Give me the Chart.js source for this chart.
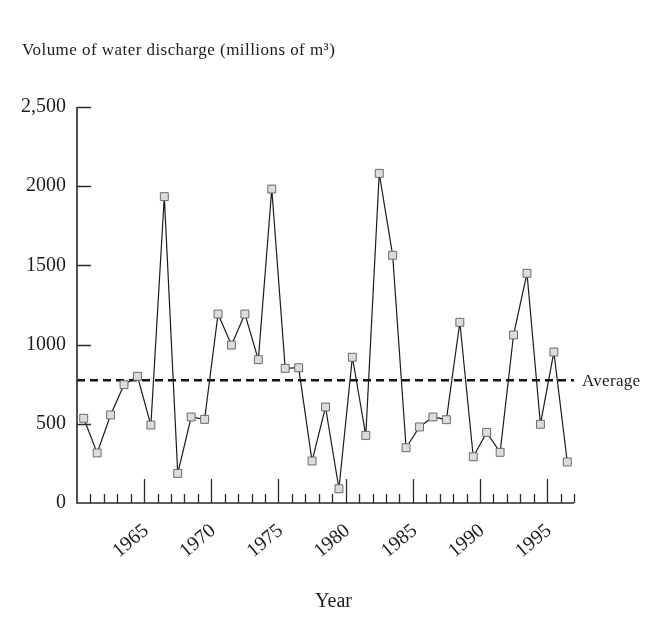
<!DOCTYPE html>
<html>
<head>
<meta charset="utf-8">
<script src="https://cdn.jsdelivr.net/npm/chart.js@4.4.1/dist/chart.umd.min.js"></script>
<style>
  html, body { margin: 0; padding: 0; background: #ffffff; }
  #wrap { width: 655px; height: 642px; position: relative; }
</style>
</head>
<body>
<div id="wrap"><canvas id="chart" width="655" height="642"></canvas></div>
<script>
// Annual water discharge, millions of m³ (one value per year, 1960–1996)
const years = [
  1960, 1961, 1962, 1963, 1964, 1965, 1966, 1967, 1968, 1969,
  1970, 1971, 1972, 1973, 1974, 1975, 1976, 1977, 1978, 1979,
  1980, 1981, 1982, 1983, 1984, 1985, 1986, 1987, 1988, 1989,
  1990, 1991, 1992, 1993, 1994, 1995, 1996
];
const discharge = [
  535, 316, 556, 747, 800, 492, 1934, 187, 543, 528,
  1193, 997, 1193, 905, 1982, 850, 854, 265, 606, 90,
  920, 427, 2081, 1564, 349, 480, 543, 526, 1141, 292,
  446, 320, 1061, 1450, 497, 953, 259
];
const averageDischarge = 775;
const yTickValues = [0, 500, 1000, 1500, 2000, 2500];
const yTickLabels = ['0', '500', '1000', '1500', '2000', '2,500'];
const labelledYears = [1965, 1970, 1975, 1980, 1985, 1990, 1995];
const firstYear = 1960;
const lastYear = 1997;

const SERIF = '"Liberation Serif", "Times New Roman", serif';
const INK = '#1c1c1c';

// Axis lines with inward-pointing tick marks
const axesPlugin = {
  id: 'inwardAxes',
  afterDatasetsDraw(chart) {
    const { ctx, scales: { x, y } } = chart;
    const x0 = x.getPixelForValue(firstYear);
    const x1 = x.getPixelForValue(lastYear);
    const yBase = y.getPixelForValue(0);
    const yTop = y.getPixelForValue(2500);
    ctx.save();
    ctx.strokeStyle = '#2a2a2a';
    ctx.lineWidth = 1.6;
    ctx.lineCap = 'butt';
    ctx.beginPath();
    ctx.moveTo(x0, yTop);
    ctx.lineTo(x0, yBase);
    ctx.lineTo(x1, yBase);
    ctx.stroke();

    ctx.lineWidth = 1.3;
    ctx.beginPath();
    for (let yr = firstYear + 1; yr <= lastYear; yr++) {
      const px = Math.round(x.getPixelForValue(yr)) + 0.5;
      const len = yr % 5 === 0 ? 24 : 9;
      ctx.moveTo(px, yBase);
      ctx.lineTo(px, yBase - len);
    }
    yTickValues.forEach(v => {
      if (v === 0) return;
      const py = Math.round(y.getPixelForValue(v)) + 0.5;
      ctx.moveTo(x0, py);
      ctx.lineTo(x0 + 14, py);
    });
    ctx.stroke();
    ctx.restore();
  }
};

// Heading, x-axis name and the label at the end of the average line
const textPlugin = {
  id: 'chartTexts',
  afterDraw(chart) {
    const { ctx, scales: { x, y } } = chart;
    ctx.save();
    ctx.fillStyle = INK;
    ctx.textBaseline = 'alphabetic';
    ctx.textAlign = 'left';
    ctx.font = '17px ' + SERIF;
    ctx.letterSpacing = '0.45px';
    ctx.fillText('Volume of water discharge (millions of m³)', 22, 55);
    ctx.letterSpacing = '0.3px';
    ctx.textBaseline = 'middle';
    ctx.fillText('Average', x.getPixelForValue(lastYear) + 8, y.getPixelForValue(averageDischarge) + 1);
    ctx.letterSpacing = '0px';
    ctx.font = '20px ' + SERIF;
    ctx.textAlign = 'center';
    ctx.textBaseline = 'alphabetic';
    ctx.fillText('Year', (x.left + x.right) / 2 + 8, 607);
    ctx.restore();
  }
};

new Chart(document.getElementById('chart'), {
  type: 'line',
  data: {
    datasets: [
      {
        label: 'Discharge',
        data: years.map((yr, i) => ({ x: yr + 0.5, y: discharge[i] })),
        borderColor: INK,
        borderWidth: 1.2,
        tension: 0,
        pointStyle: 'rect',
        pointRadius: 5.6,
        pointBackgroundColor: '#dcdcdc',
        pointBorderColor: '#6a6a6a',
        pointBorderWidth: 1,
        order: 0
      },
      {
        label: 'Average',
        data: [{ x: firstYear, y: averageDischarge }, { x: lastYear, y: averageDischarge }],
        borderColor: '#111111',
        borderWidth: 2.6,
        borderDash: [8, 5],
        pointRadius: 0,
        order: 1
      }
    ]
  },
  options: {
    responsive: false,
    animation: false,
    layout: { padding: { left: 0, right: 81, top: 107, bottom: 28 } },
    plugins: {
      legend: { display: false },
      tooltip: { enabled: false }
    },
    scales: {
      x: {
        type: 'linear',
        min: firstYear,
        max: lastYear,
        grid: { display: false, drawTicks: false },
        border: { display: false },
        afterBuildTicks: s => { s.ticks = labelledYears.map(v => ({ value: v })); },
        afterFit: s => { s.height = 642 - 28 - 503; },
        ticks: {
          autoSkip: false,
          minRotation: 40,
          maxRotation: 40,
          padding: 16,
          labelOffset: 2,
          color: INK,
          font: { family: SERIF, size: 20 },
          callback: v => String(v)
        },
        title: { display: false }
      },
      y: {
        min: 0,
        max: 2500,
        grid: { display: false, drawTicks: false },
        border: { display: false },
        afterBuildTicks: s => { s.ticks = yTickValues.map(v => ({ value: v })); },
        afterFit: s => { s.width = 77; },
        ticks: {
          padding: 11,
          color: INK,
          font: { family: SERIF, size: 20 },
          callback: v => yTickLabels[yTickValues.indexOf(v)]
        }
      }
    }
  },
  plugins: [axesPlugin, textPlugin]
});
</script>
</body>
</html>
